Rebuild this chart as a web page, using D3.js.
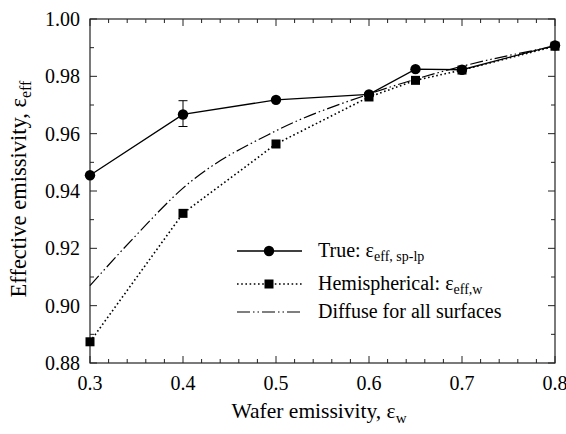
<!DOCTYPE html>
<html><head><meta charset="utf-8">
<script src="https://cdn.jsdelivr.net/npm/d3@7"></script>
<style>svg text{font-family:"Liberation Serif","Times New Roman",Tinos !important;}</style>
</head><body style="margin:0"><svg id="c" width="566" height="434"></svg>
<script>
const xTicks = [0.3,0.4,0.5,0.6,0.7,0.8];
const yTicks = [0.88,0.90,0.92,0.94,0.96,0.98,1.00];
const trueX = [0.3,0.4,0.5,0.6,0.65,0.7,0.8];
const trueY = [0.9455,0.9667,0.9718,0.9737,0.9825,0.9823,0.9908];
const errX = [0.4];
const errLo = [0.9625];
const errHi = [0.9715];
const hemiX = [0.3,0.4,0.5,0.6,0.65,0.7,0.8];
const hemiY = [0.8874,0.9322,0.9564,0.9728,0.9786,0.9822,0.9905];
const diffX = [0.3,0.35,0.4,0.5,0.6,0.65,0.7,0.8];
const diffY = [0.907,0.9247,0.941,0.961,0.9738,0.979,0.9835,0.9905];
const legendLabels = ["True: ", "Hemispherical: ", "Diffuse for all surfaces"];

const svg = d3.select("#c");
const L=90,R=555,T=19,B=363;
const x = d3.scaleLinear().domain([0.3,0.8]).range([L,R]);
const y = d3.scaleLinear().domain([0.88,1.00]).range([B,T]);
function txt(sel){ return sel.append("text").style("font-family",'"Liberation Serif", "Times New Roman", Tinos').attr("font-family","Liberation Serif").attr("fill","#000"); }

svg.append("rect").attr("x",L).attr("y",T).attr("width",R-L).attr("height",B-T)
  .attr("fill","none").attr("stroke","#222").attr("stroke-width",1.2);

const xMinor = d3.range(0.3,0.8001,0.02);
const yMinor = d3.range(0.88,1.0001,0.01);
const tg = svg.append("g").attr("stroke","#222").attr("stroke-width",1);
xMinor.forEach(v=>{
  const major = xTicks.some(t=>Math.abs(t-v)<1e-6);
  const len = major?7:4;
  tg.append("line").attr("x1",x(v)).attr("x2",x(v)).attr("y1",B).attr("y2",B-len);
  tg.append("line").attr("x1",x(v)).attr("x2",x(v)).attr("y1",T).attr("y2",T+len);
});
yMinor.forEach(v=>{
  const major = yTicks.some(t=>Math.abs(t-v)<1e-6);
  const len = major?7:4;
  tg.append("line").attr("y1",y(v)).attr("y2",y(v)).attr("x1",L).attr("x2",L+len);
  tg.append("line").attr("y1",y(v)).attr("y2",y(v)).attr("x1",R).attr("x2",R-len);
});
xTicks.forEach(v=>{
  txt(svg).attr("x",x(v)).attr("y",B+27).attr("text-anchor","middle")
    .attr("font-size",20).text(d3.format(".1f")(v));
});
yTicks.forEach(v=>{
  txt(svg).attr("x",L-10).attr("y",y(v)+7).attr("text-anchor","end")
    .attr("font-size",20).text(d3.format(".2f")(v));
});

const xt = txt(svg).attr("x",319).attr("y",418).attr("text-anchor","middle").attr("font-size",21.5);
xt.append("tspan").text("Wafer emissivity, ε");
xt.append("tspan").attr("font-size",15).attr("dy",5).text("w");
const yt = txt(svg).attr("transform","translate(26,189) rotate(-90)").attr("text-anchor","middle").attr("font-size",22.5);
yt.append("tspan").text("Effective emissivity, ε");
yt.append("tspan").attr("font-size",16).attr("dy",5).text("eff");

const line = d3.line().x(d=>x(d[0])).y(d=>y(d[1]));
const dTrue = trueX.map((v,i)=>[v,trueY[i]]);
const dHemi = hemiX.map((v,i)=>[v,hemiY[i]]);
const dDiff = diffX.map((v,i)=>[v,diffY[i]]);
const dashDiff = "13,3,1.5,3,1.5,3";
const dashHemi = "1.6,2.6";
svg.append("path").attr("d",d3.line().x(d=>x(d[0])).y(d=>y(d[1])).curve(d3.curveMonotoneX)(dDiff)).attr("fill","none")
  .attr("stroke","#000").attr("stroke-width",1.2).attr("stroke-dasharray",dashDiff);
svg.append("path").attr("d",line(dHemi)).attr("fill","none")
  .attr("stroke","#000").attr("stroke-width",1.6).attr("stroke-dasharray",dashHemi);
svg.append("path").attr("d",line(dTrue)).attr("fill","none")
  .attr("stroke","#000").attr("stroke-width",1.3);

errX.forEach((v,i)=>{
  svg.append("line").attr("x1",x(v)).attr("x2",x(v)).attr("y1",y(errLo[i])).attr("y2",y(errHi[i])).attr("stroke","#000").attr("stroke-width",1);
  [errLo[i],errHi[i]].forEach(e=>svg.append("line").attr("x1",x(v)-4.5).attr("x2",x(v)+4.5).attr("y1",y(e)).attr("y2",y(e)).attr("stroke","#000").attr("stroke-width",1));
});

svg.selectAll(".sq").data(dHemi).enter().append("rect")
  .attr("x",d=>x(d[0])-4.5).attr("y",d=>y(d[1])-4.5).attr("width",9).attr("height",9).attr("fill","#000");
svg.selectAll(".ci").data(dTrue).enter().append("circle")
  .attr("cx",d=>x(d[0])).attr("cy",d=>y(d[1])).attr("r",5.2).attr("fill","#000");

const lx1=237,lx2=302,lmx=269,tx=318;
const rows=[251,284,312];
svg.append("line").attr("x1",lx1).attr("x2",lx2).attr("y1",rows[0]).attr("y2",rows[0]).attr("stroke","#000").attr("stroke-width",1.3);
svg.append("circle").attr("cx",lmx).attr("cy",rows[0]).attr("r",5.2).attr("fill","#000");
svg.append("line").attr("x1",lx1).attr("x2",lx2).attr("y1",rows[1]).attr("y2",rows[1]).attr("stroke","#000").attr("stroke-width",1.6).attr("stroke-dasharray",dashHemi);
svg.append("rect").attr("x",lmx-4.5).attr("y",rows[1]-4.5).attr("width",9).attr("height",9).attr("fill","#000");
svg.append("line").attr("x1",lx1).attr("x2",lx2).attr("y1",rows[2]).attr("y2",rows[2]).attr("stroke","#000").attr("stroke-width",1.2).attr("stroke-dasharray",dashDiff);

const t1 = txt(svg).attr("x",tx).attr("y",rows[0]+6).attr("font-size",20);
t1.append("tspan").text(legendLabels[0]+"ε");
t1.append("tspan").attr("font-size",14).attr("dy",4).text("eff, sp-lp");
const t2 = txt(svg).attr("x",tx).attr("y",rows[1]+6).attr("font-size",20);
t2.append("tspan").text(legendLabels[1]+"ε");
t2.append("tspan").attr("font-size",14).attr("dy",4).text("eff,w");
txt(svg).attr("x",tx).attr("y",rows[2]+6).attr("font-size",20).text(legendLabels[2]);
</script></body></html>
